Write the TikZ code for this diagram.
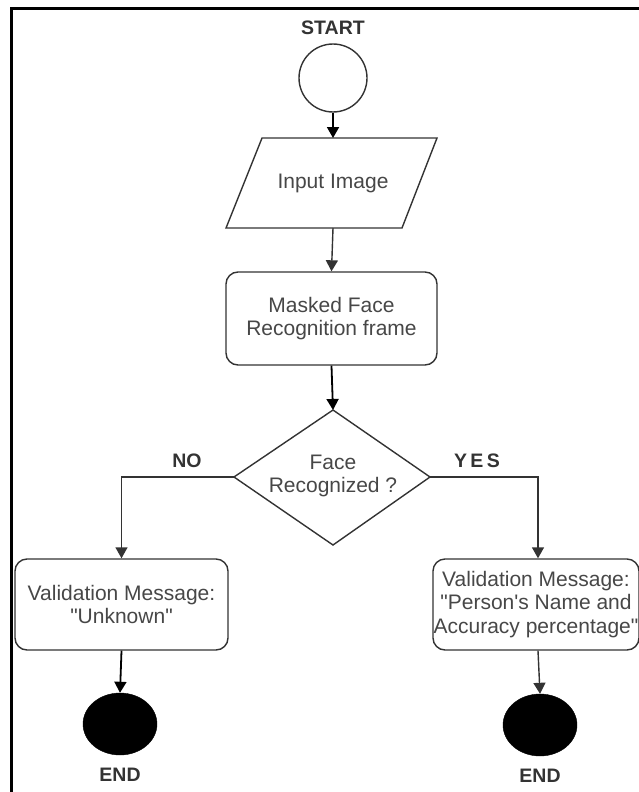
\documentclass[tikz,border=0pt]{standalone}
\usepackage{fontspec}
\setmainfont{Liberation Sans}[Ligatures=TeXOff]
\usetikzlibrary{shapes.geometric,arrows.meta}
\definecolor{txtgray}{HTML}{474747}
\definecolor{linegray}{HTML}{333333}
\tikzset{
  txt/.style={align=center,text=txtgray,font=\fontsize{21}{23.5}\selectfont,inner sep=0pt},
  lbl/.style={text=linegray,font=\fontsize{19.5}{22}\selectfont\bfseries,inner sep=0pt},
  outline/.style={draw=linegray,line width=1.4pt},
  procbox/.style={outline,rounded corners=12pt,txt,fill=white},
  arr/.style={draw=black,line width=1.8pt,-{Triangle[length=11pt,width=12pt]}},
  link/.style={draw=linegray,line width=1.4pt,-{Triangle[length=11pt,width=12pt]}},
  endcirc/.style={ellipse,fill=black,draw=black,minimum width=74pt,minimum height=62pt,inner sep=0pt}
}
\begin{document}
\begin{tikzpicture}[x=1pt,y=-1pt]
\useasboundingbox (0,0) rectangle (639,792);
% frame
\draw[black,line width=3pt] (639,9) -- (11,9) -- (11,792);

% start
\node[lbl] (startlbl) at (333,28) {START};
\node[circle,outline,minimum size=68pt,inner sep=0pt] (start) at (333,78) {};

% input parallelogram
\coordinate (pTL) at (262,138);
\coordinate (pTR) at (437,138);
\coordinate (pBR) at (402,228);
\coordinate (pBL) at (226,228);
\coordinate (pT) at (333,138);
\coordinate (pB) at (333,228);
\draw[outline] (pTL) -- (pTR) -- (pBR) -- (pBL) -- cycle;
\node[txt] (input) at (333,183) {Input Image};

% masked face box
\node[procbox,minimum width=211pt,minimum height=93pt] (mask) at (331.5,318.5) {Masked Face\\Recognition frame};

% decision diamond
\coordinate (dT) at (333,410);
\coordinate (dR) at (430,477);
\coordinate (dB) at (333,545);
\coordinate (dL) at (234,477);
\draw[outline] (dT) -- (dR) -- (dB) -- (dL) -- cycle;
\node[txt] (dec) at (333,476) {Face\\Recognized ?};

% result boxes
\node[procbox,minimum width=213pt,minimum height=91pt] (unk) at (121.5,604.5) {Validation Message:\\"Unknown"};
\node[procbox,minimum width=206pt,minimum height=91pt] (known) at (536,604.5) {Validation Message:\\"Person's Name and\\Accuracy percentage"};

% end circles
\node[endcirc] (endL) at (120,724) {};
\node[endcirc] (endR) at (540,725) {};
\node[lbl] (endLlbl) at (120,775) {END};
\node[lbl] (endRlbl) at (540,776) {END};

% branch labels
\node[lbl] (nolbl) at (187,461) {NO};
\node[lbl] (yeslbl) at (477,461) {Y\,E\,S};

% connectors
\draw[arr] (start.south) -- (pT);
\draw[link] (pB) -- (mask.north);
\draw[arr] (mask.south) -- (dT);
\draw[link] (dL) -| (unk.north);
\draw[link] (dR) -| ([xshift=2pt]known.north);
\draw[arr] (unk.south) -- (endL.north);
\draw[link] ([xshift=2pt]known.south) -- (endR.north);
\end{tikzpicture}
\end{document}
